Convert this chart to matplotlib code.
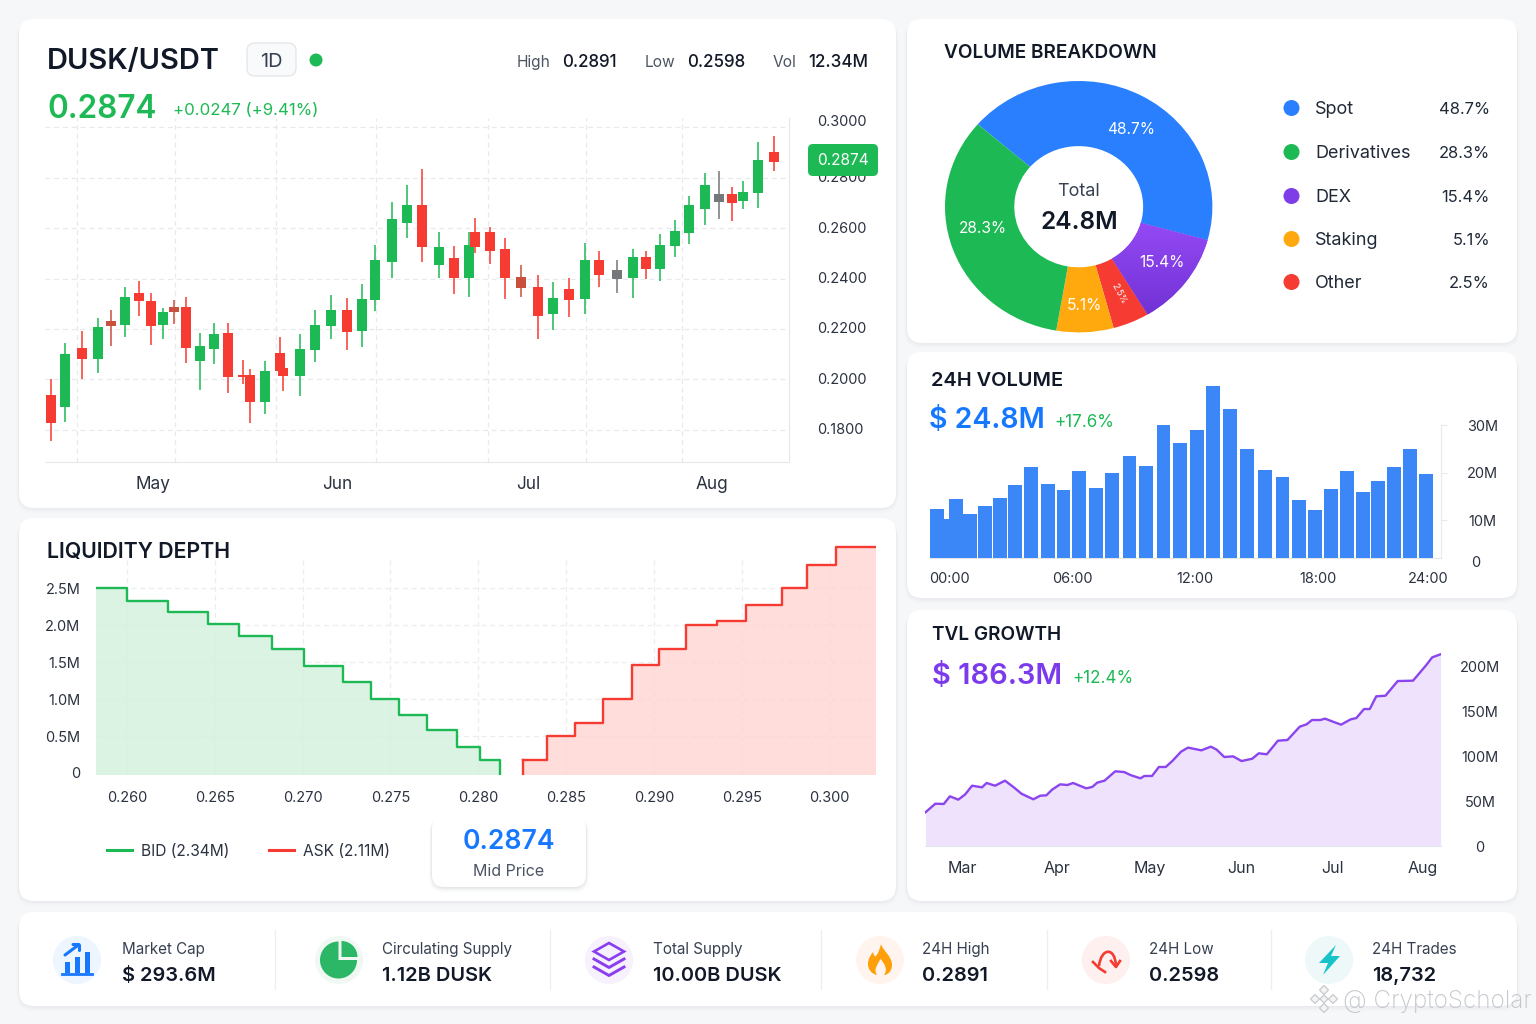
import matplotlib
matplotlib.use("Agg")
import matplotlib.pyplot as plt
import numpy as np
from matplotlib.patches import FancyBboxPatch, Circle, Wedge, Polygon, PathPatch
from matplotlib.path import Path
from matplotlib.transforms import Affine2D
from matplotlib.colors import LinearSegmentedColormap

plt.rcParams['font.family'] = ['Inter', 'DejaVu Sans']

# ---------- data ----------
candle_day = [0.95,3.38,6.17,8.83,11.05,13.28,15.67,17.72,19.67,21.45,23.45,25.83,28.12,30.55,32.95,34.22,36.67,39.17,39.72,42.45,
              44.95,47.67,50.33,52.83,55.05,57.78,60.33,62.88,65.62,68.22,70.67,71.72,74.12,76.72,79.38,82.12,84.62,87.33,89.95,92.33,
              95.28,97.95,100.12,102.45,104.95,107.38,110.0,112.28,114.5,116.38,118.83,121.45]
candle_high = [.2000,.2143,.2192,.2245,.2275,.2368,.2390,.2341,.2282,.2315,.2328,.2183,.2222,.2222,.2077,.2040,.2074,.2169,.2045,.2180,
               .2275,.2333,.2321,.2377,.2533,.2705,.2770,.2836,.2585,.2530,.2585,.2640,.2606,.2561,.2454,.2413,.2386,.2402,.2542,.2509,
               .2474,.2517,.2509,.2575,.2632,.2728,.2818,.2827,.2762,.2787,.2942,.2967]
candle_top = [.1937,.2099,.2126,.2206,.2233,.2328,.2344,.2312,.2266,.2286,.2288,.2131,.2180,.2185,.2016,.2016,.2032,.2106,.2045,.2119,
              .2216,.2275,.2274,.2317,.2474,.2635,.2693,.2690,.2526,.2480,.2534,.2583,.2585,.2516,.2407,.2365,.2323,.2360,.2474,.2472,
              .2435,.2484,.2484,.2533,.2590,.2690,.2771,.2734,.2734,.2745,.2870,.2901]
candle_bottom = [.1828,.1889,.2081,.2079,.2212,.2217,.2310,.2212,.2214,.2269,.2124,.2074,.2119,.2008,.2009,.1910,.1910,.2034,.2015,.2015,
                 .2115,.2213,.2189,.2190,.2316,.2467,.2622,.2525,.2452,.2401,.2401,.2526,.2509,.2401,.2364,.2251,.2261,.2315,.2317,.2414,
                 .2399,.2401,.2438,.2438,.2530,.2581,.2675,.2704,.2701,.2709,.2739,.2861]
candle_low = [.1757,.1831,.2003,.2024,.2132,.2167,.2251,.2136,.2160,.2220,.2064,.1958,.2061,.1944,.1982,.1825,.1862,.2034,.1955,.1934,
              .2070,.2161,.2116,.2130,.2272,.2403,.2561,.2464,.2403,.2339,.2328,.2503,.2458,.2320,.2328,.2161,.2196,.2246,.2259,.2368,
              .2341,.2321,.2398,.2392,.2484,.2537,.2614,.2635,.2630,.2675,.2679,.2828]
candle_tone = list("RGRGBGRRGBRGGRRRGRRGGGRGGGGRGRGRRRBRGRGRKGRGGGGKRGGR")
candle_grid_days = [5.33,21.67,38.5,55.17,73.83,90.17,106.17]
candle_month_days = [18.0,48.67,80.5,111.17]
candle_months = ['May','Jun','Jul','Aug']
price_ticks = [0.30,0.28,0.26,0.24,0.22,0.20,0.18]

depth_ticks = [0.260,0.265,0.270,0.275,0.280,0.285,0.290,0.295,0.300]
size_ticks = [0,0.5,1.0,1.5,2.0,2.5]
size_labels = ['0','0.5M','1.0M','1.5M','2.0M','2.5M']
bid_price = [0.25822,0.25997,0.26234,0.26459,0.2664,0.26828,0.27009,0.27231,0.2739,0.27549,0.27709,0.27877,0.28009,0.28121]
bid_size = [2.50,2.334,2.185,2.018,1.851,1.679,1.449,1.237,1.002,0.786,0.587,0.352,0.176,-0.032]
ask_price = [0.28252,0.2839,0.28552,0.28711,0.28874,0.2903,0.29183,0.29358,0.29524,0.2973,0.29874,0.30039,0.30267]
ask_size = [0.176,0.497,0.677,1.002,1.463,1.679,2.0,2.063,2.275,2.50,2.817,3.056,3.056]

slice_names = ['Spot','Derivatives','DEX','Staking','Other']
slice_pct = ['48.7%','28.3%','15.4%','5.1%','2.5%']
slice_colors = ['#2A7FFF','#1DB954','#7F3DE8','#FFA90F','#F53B32']
slice_drawn = [42.9,12.1,4.4,6.9,33.7]          # read clockwise from the blue edge
slice_drawn_colors = ['#2A7FFF','#7F3DE8','#F53B32','#FFA90F','#1DB954']

vol_hour = [-0.60,-0.09,0.34,1.02,1.73,2.48,3.22,4.0,4.80,5.57,6.33,7.15,7.95,8.79,9.61,10.45,11.25,12.07,12.87,13.71,14.54,15.42,
            16.26,17.08,17.86,18.62,19.42,20.17,20.93,21.69,22.50,23.28]
vol_value = [12.39,10.21,14.35,11.33,12.95,14.63,17.37,21.16,17.58,16.39,20.32,16.81,19.96,23.54,21.37,29.93,26.28,28.88,38.21,33.37,
             25.02,20.53,18.98,14.28,12.11,16.46,20.25,15.96,18.14,21.16,24.88,19.75]
vol_xticks = [0,6,12,18,24]
vol_xlabels = ['00:00','06:00','12:00','18:00','24:00']
vol_yticks = [10,20,30]
vol_ylabels = ['10M','20M','30M']

tvl_day = [-11.97,-8.73,-5.99,-3.99,-1.25,1.0,3.24,6.48,7.98,10.72,13.97,16.83,19.33,23.19,25.44,27.43,29.3,31.92,34.29,36.16,40.4,42.39,
           44.01,46.38,49.88,52.74,55.11,58.1,59.35,61.85,64.09,66.33,68.58,71.32,73.57,77.93,81.05,82.92,85.41,88.28,91.02,94.51,96.63,
           99.25,102.87,105.99,109.98,112.22,113.97,116.71,118.2,123.44,126.56,128.43,130.92,132.79,134.91,137.91,141.9,146.88,151.12,153.12,155.86]
tvl_value = [37.4,47.0,46.7,55.2,51.5,57.4,67.0,65.2,70.0,67.0,72.6,65.2,58.1,51.9,55.9,56.3,62.6,68.5,67.8,70.0,64.1,65.6,
             70.4,72.6,83.0,82.2,78.5,75.2,77.8,77.8,87.8,87.8,94.8,104.8,109.3,106.3,110.4,107.0,98.9,99.6,94.4,97.0,103.0,
             101.9,117.0,117.8,132.6,135.2,140.0,140.0,141.5,134.8,140.7,142.2,152.2,152.2,166.3,167.0,183.3,183.7,200.7,209.6,213.0]
tvl_month_days = [0,31,61,91,120.5,150]
tvl_months = ['Mar','Apr','May','Jun','Jul','Aug']
tvl_yticks = [0,50,100,150,200]
tvl_ylabels = ['0','50M','100M','150M','200M']

stat_labels = ['Market Cap','Circulating Supply','Total Supply','24H High','24H Low','24H Trades']
stat_values = ['$ 293.6M','1.12B DUSK','10.00B DUSK','0.2891','0.2598','18,732']

GREEN, RED, BLUE, PURPLE = '#1DB954', '#F53B32', '#1677FF', '#7C3AED'
INK, MUTE, TICK = '#111827', '#4B5563', '#2B3240'
W, H = 1536, 1024
fig = plt.figure(figsize=(W/100, H/100), dpi=100, facecolor='#F6F7F9')

def axes_px(x0, y0, x1, y1, z=2):
    a = fig.add_axes([x0/W, 1-y1/H, (x1-x0)/W, (y1-y0)/H], zorder=z)
    a.patch.set_alpha(0)
    return a

# background cards
bg = axes_px(0, 0, W, H, z=0)
bg.set_xlim(0, W); bg.set_ylim(H, 0); bg.axis('off')
def card(x0, y0, x1, y1, a=bg, r=15, z=1, k=1.0):
    for off, alpha in ((5, .012), (3, .016), (1.5, .022)):
        a.add_patch(FancyBboxPatch((x0-off/2, y0+off-off/2), x1-x0+off, y1-y0+off/2, boxstyle=f'round,pad=0,rounding_size={r+2}',
                                   fc='#1F2937', ec='none', alpha=alpha*k, zorder=z))
    a.add_patch(FancyBboxPatch((x0, y0), x1-x0, y1-y0, boxstyle=f'round,pad=0,rounding_size={r}', fc='white', ec='none', zorder=z+.1))
for c in [(19,19,896,508),(19,518,896,901),(907,19,1517,343),(907,352,1517,598),(907,610,1517,901),(19,912,1517,1006)]:
    card(*c)

def style_ticks(a, size=14.5):
    a.tick_params(which='both', length=0, labelsize=size*.72, labelcolor=TICK)

# candles
ax = axes_px(45, 118, 789, 462)
ax.set_xlim(0, 124); ax.set_ylim(0.1672, 0.3037)
for s in ('top','left'): ax.spines[s].set_visible(False)
for s in ('bottom','right'): ax.spines[s].set_color('#E5E7EB')
ax.set_yticks(price_ticks)
ax.set_yticklabels([f'{v:.4f}' for v in price_ticks])
ax.yaxis.tick_right()
ax.set_xticks(candle_month_days); ax.set_xticklabels(candle_months)
ax.set_xticks(candle_grid_days, minor=True)
style_ticks(ax)
ax.tick_params(axis='y', pad=20.5)
ax.tick_params(axis='x', pad=10, labelsize=12.4)
ax.grid(axis='y', color='#E7E9EC', ls=(0, (4, 3)), lw=.9)
ax.grid(axis='x', which='minor', color='#E7E9EC', ls=(0, (4, 3)), lw=.9)
ax.set_axisbelow(True)
tone = {'G': GREEN, 'R': RED, 'B': '#C9503C', 'K': '#76777B'}
cols = [tone[k] for k in candle_tone]
ax.vlines(candle_day, candle_low, candle_high, colors=cols, lw=1.1, zorder=3)
ax.bar(candle_day, [a-b for a, b in zip(candle_top, candle_bottom)], bottom=candle_bottom, width=1.68, color=cols, zorder=4)
for i, t in enumerate(ax.yaxis.get_major_ticks()):
    t.label2.set_transform(t.label2.get_transform() + Affine2D().translate(0, 7 if i == 0 else 1))

# depth
dx = axes_px(95.8, 540, 876.4, 775.3)
dx.set_xlim(0.25822, 0.30267); dx.set_ylim(-0.032, 3.156)
for s in dx.spines.values(): s.set_visible(False)
dx.set_xticks(depth_ticks); dx.set_xticklabels([f'{v:.3f}' for v in depth_ticks])
dx.set_yticks(size_ticks); dx.set_yticklabels(size_labels)
style_ticks(dx)
dx.tick_params(axis='y', pad=11)
dx.tick_params(axis='x', pad=11.5)
dx.hlines(size_ticks[1:], 0.25822, 0.30267, color='#EBEDF0', ls=(0, (4, 3)), lw=.9, zorder=1)
dx.vlines(depth_ticks, -0.032, 2.9, color='#EBEDF0', ls=(0, (4, 3)), lw=.9, zorder=1)
dx.fill_between(bid_price, bid_size, -0.032, step='post', color='#D5F1DE', alpha=.85, lw=0, zorder=2)
dx.fill_between(ask_price, ask_size, -0.032, step='post', color='#FFD5D2', alpha=.8, lw=0, zorder=2)
dx.step(bid_price, bid_size, where='post', color=GREEN, lw=1.7, zorder=3)
dx.plot([ask_price[0], ask_price[0]], [-0.032, ask_size[0]], color=RED, lw=1.7, zorder=3)
dx.step(ask_price, ask_size, where='post', color=RED, lw=1.7, zorder=3)

# donut
px = axes_px(945, 81, 1212.4, 332.4)
wedges, _ = px.pie(slice_drawn, colors=slice_drawn_colors, startangle=139, counterclock=False, radius=1,
                   wedgeprops=dict(width=0.518, lw=0))
px.set_aspect('auto')
shade = LinearSegmentedColormap.from_list('p', ['#6A2ECF', '#9B4DFA'])
im = px.imshow(np.linspace(0, 1, 64).reshape(-1, 1), cmap=shade, origin='lower', extent=(0, 1, -1, 0), aspect='auto', zorder=3)
im.set_clip_path(wedges[1])
px.set_aspect('auto'); px.set_xlim(-1, 1); px.set_ylim(-1, 1)

# 24h volume
vx = axes_px(930, 380, 1441, 557.7)
vx.set_xlim(-0.95, 23.92); vx.set_ylim(2.06, 39.5)
for s in ('top','left'): vx.spines[s].set_visible(False)
vx.spines['bottom'].set_color('#E5E7EB')
vx.spines['right'].set_color('#E8EAED'); vx.spines['right'].set_bounds(2.06, 30)
vx.bar(vol_hour, vol_value, width=0.68, color='#3B87F8', zorder=3)
vx.set_xticks(vol_xticks); vx.set_xticklabels(vol_xlabels)
vx.yaxis.tick_right()
vx.set_yticks(vol_yticks); vx.set_yticklabels(vol_ylabels, ha='center')
style_ticks(vx)
vx.tick_params(axis='y', length=4.3, color='#E8EAED', pad=25.5)
vx.tick_params(axis='x', pad=10.5)
lab = vx.xaxis.get_major_ticks()[-1].label1
lab.set_transform(lab.get_transform() + Affine2D().translate(-13, 0))

# TVL
tx = axes_px(925, 640, 1441, 846)
tx.set_xlim(-12.1, 156); tx.set_ylim(0, 228.9)
for s in ('top','left','right'): tx.spines[s].set_visible(False)
tx.spines['bottom'].set_color('#E5E7EB')
tx.fill_between(tvl_day, tvl_value, 0, color='#EEE2FC', lw=0)
tx.plot(tvl_day, tvl_value, color='#8B45EE', lw=1.7, solid_joinstyle='round')
tx.set_xticks(tvl_month_days); tx.set_xticklabels(tvl_months)
tx.yaxis.tick_right()
tx.set_yticks(tvl_yticks); tx.set_yticklabels(tvl_ylabels, ha='center')
style_ticks(tx)
tx.tick_params(axis='y', pad=28)
tx.tick_params(axis='x', pad=11, labelsize=11.5)

# overlay
ov = axes_px(0, 0, W, H, z=6)
ov.set_xlim(0, W); ov.set_ylim(H, 0); ov.axis('off')
def T(x, y, s, size, color=INK, weight='normal', ha='left', rot=0, **kw):
    ov.text(x, y+size*.09, s, fontsize=size*.72, color=color, fontweight=weight, ha=ha, va='center', rotation=rot, **kw)

T(47, 59, 'DUSK/USDT', 29, INK, 'semibold')
ov.add_patch(FancyBboxPatch((247, 43), 49, 33, boxstyle='round,pad=0,rounding_size=8', fc='#F9FAFB', ec='#E5E7EB', lw=1))
T(271.5, 60, '1D', 20, '#374151', ha='center')
ov.add_patch(Circle((316, 60), 6.5, fc=GREEN, ec='none'))
for x, s in ((517, 'High'), (645, 'Low'), (773, 'Vol')):
    T(x, 61, s, 15.5, MUTE)
for x, s in ((562, '0.2891'), (687, '0.2598'), (808, '12.34M')):
    T(x, 61, s, 17, INK, 'medium')
T(47, 107, '0.2874', 31.5, GREEN, 'semibold')
T(173, 109, '+0.0247 (+9.41%)', 16.8, GREEN)
ov.add_patch(FancyBboxPatch((808, 144), 70, 32, boxstyle='round,pad=0,rounding_size=5', fc=GREEN, ec='none'))
T(843, 159, '0.2874', 15.5, 'white', ha='center')

T(47, 550, 'LIQUIDITY DEPTH', 21.3, INK, 'semibold')
ov.plot([107, 132], [850, 850], color=GREEN, lw=2.2)
T(141, 850, 'BID (2.34M)', 15.5, TICK)
ov.plot([269, 294], [850, 850], color=RED, lw=2.2)
T(303, 850, 'ASK (2.11M)', 15.5, TICK)
card(432, 816, 586, 887, a=ov, r=12, z=1, k=2.2)
T(508.5, 840, '0.2874', 26.5, BLUE, 'semibold', ha='center')
T(509, 870, 'Mid Price', 16, MUTE, ha='center')

T(944, 51, 'VOLUME BREAKDOWN', 19, INK, 'semibold')
T(1131, 128, '48.7%', 15.5, 'white', ha='center')
T(982.5, 227, '28.3%', 15.5, 'white', ha='center')
T(1162, 261, '15.4%', 15.5, 'white', ha='center')
T(1084, 304, '5.1%', 15.5, 'white', ha='center')
T(1119, 293, '2.5%', 9, 'white', ha='center', rot=-62)
T(1079, 190, 'Total', 18, '#374151', ha='center')
T(1079, 220, '24.8M', 24.5, INK, 'semibold', ha='center')
for y, n, p, c in zip((108, 152, 196, 239, 282), slice_names, slice_pct, slice_colors):
    ov.add_patch(Circle((1291.5, y), 8, fc=c, ec='none'))
    T(1315, y, n, 18, '#1F2937')
    T(1490, y, p, 16.5, '#1F2937', ha='right')

T(931, 379, '24H VOLUME', 20, INK, 'semibold')
T(929, 418, '$ 24.8M', 28.5, BLUE, 'semibold')
T(1054, 421, '+17.6%', 17, GREEN)
T(1476, 562, '0', 14.5, TICK, ha='center')
T(932, 633, 'TVL GROWTH', 19, INK, 'semibold')
T(932, 674, '$ 186.3M', 29, PURPLE, 'semibold')
T(1072, 677, '+12.4%', 17, GREEN)

# stat strip
for x in (275, 550, 821, 1047, 1271):
    ov.plot([x, x], [930, 989], color='#ECEEF1', lw=.9)
stat_x = (122, 382, 653, 922, 1149, 1372)
for x, a, b in zip(stat_x, stat_labels, stat_values):
    T(x, 948, a, 15.2, '#374151')
    T(x, 974, b, 20, INK, 'semibold')
for cx, c in zip((77, 339, 609, 880, 1106, 1329), ('#EDF5FE', '#F0F8F3', '#F6F1FD', '#FFF4EE', '#FDF0EE', '#EEF8F9')):
    ov.add_patch(Circle((cx, 960), 24, fc=c, ec='none'))
# market cap
for x, top in ((67, 961.7), (77.2, 956.7), (87, 951.7)):
    ov.add_patch(plt.Rectangle((x-2.5, top), 5, 973-top, fc=BLUE, ec='none'))
ov.plot([62, 92], [974, 974], color=BLUE, lw=2)
ov.plot([65, 79, 73], [955, 944.5, 944.5], color=BLUE, lw=2.2, solid_capstyle='round')
ov.plot([79, 79], [944.5, 950], color=BLUE, lw=2.2, solid_capstyle='round')
# pie
ov.add_patch(Wedge((338.5, 960), 18.5, 0, 270, fc='#2BB765', ec='none'))
ov.add_patch(Wedge((341.5, 957), 16, 270, 360, fc='#2BB765', ec='none'))
# stack
ov.add_patch(Polygon([(609, 943), (624, 951.5), (609, 960), (594, 951.5)], closed=True, fc='none', ec='#8B3DF0', lw=1.9))
for y in (959, 967):
    ov.plot([594, 609, 624], [y, y+8.5, y], color='#8B3DF0', lw=2.1)
# flame
C4 = Path.CURVE4
flame = Path([(881, 944), (883, 951), (892, 956), (892, 965), (892, 972), (887, 975), (884, 975), (888, 970), (885, 964), (880.5, 959),
              (878, 964), (873, 969), (877, 975), (872, 974), (868, 970), (868, 964), (868, 958), (871, 955), (873, 952), (874, 956), (875, 957), (876, 956),
              (879, 952), (880, 948), (881, 944)],
             [Path.MOVETO] + [C4]*24)
ov.add_patch(PathPatch(flame, fc='#FF9F0A', ec='none'))
# low
arc = Path([(1099, 966), (1101, 948), (1115, 946), (1116, 966)], [Path.MOVETO, C4, C4, C4])
ov.add_patch(PathPatch(arc, fc='none', ec=RED, lw=1.9))
ov.plot([1111, 1116, 1120], [961, 967, 961], color=RED, lw=1.9)
ov.plot([1093, 1099, 1105], [962, 968, 972], color=RED, lw=1.9)
# bolt
ov.add_patch(Polygon([(1336, 945), (1319, 963), (1328, 963), (1323, 975), (1340, 956), (1331, 956)], closed=True, fc='#17C3C9', ec='none'))

# watermark
for dxx, dyy, s in ((0, -9, 4.5), (-9, 0, 4.5), (9, 0, 4.5), (0, 9, 4.5), (0, 0, 4)):
    x0, y0 = 1324+dxx, 999+dyy
    ov.add_patch(Polygon([(x0, y0-s), (x0+s, y0), (x0, y0+s), (x0-s, y0)], closed=True, fc='#F4F4F5', ec='#C8CACE', lw=.9, zorder=8))
T(1343, 999, '@ CryptoScholar', 24.3, '#C4C7CB', weight='light', zorder=8)

fig.savefig('out.png', dpi=100, facecolor=fig.get_facecolor())
